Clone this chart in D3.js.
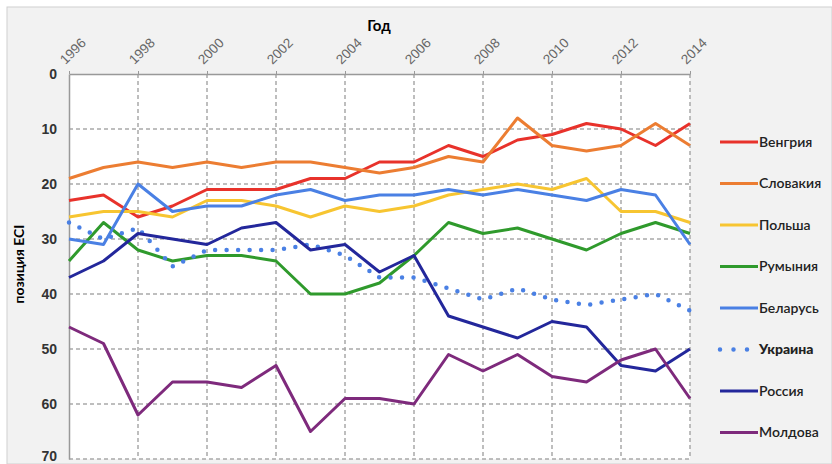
<!DOCTYPE html>
<html>
<head>
<meta charset="utf-8">
<script src="https://cdn.jsdelivr.net/npm/d3@7"></script>
<style>
  body { margin: 0; background: #fff; }
  svg { display: block; font-family: Lato, "Open Sans", sans-serif; }
</style>
</head>
<body>
<script>
var width = 832,
	height = 464;

// data (ECI rank, lower = better)
var years = d3.range(1996, 2015);
var countries = ["Венгрия", "Словакия", "Польша", "Румыния", "Беларусь", "Украина", "Россия", "Молдова"];
var colors = ["#e8322b", "#ec7d32", "#f7c531", "#2f9a2c", "#4a80e4", "#4a80e4", "#23279b", "#7e2a7c"];
var hungary  = [23, 22, 26, 24, 21, 21, 21, 19, 19, 16, 16, 13, 15, 12, 11, 9, 10, 13, 9];
var slovakia = [19, 17, 16, 17, 16, 17, 16, 16, 17, 18, 17, 15, 16, 8, 13, 14, 13, 9, 13];
var poland   = [26, 25, 25, 26, 23, 23, 24, 26, 24, 25, 24, 22, 21, 20, 21, 19, 25, 25, 27];
var romania  = [34, 27, 32, 34, 33, 33, 34, 40, 40, 38, 33, 27, 29, 28, 30, 32, 29, 27, 29];
var belarus  = [30, 31, 20, 25, 24, 24, 22, 21, 23, 22, 22, 21, 22, 21, 22, 23, 21, 22, 31];
var ukraine  = [27, 30, 28, 35, 32, 32, 32, 31, 33, 37, 37, 39, 41, 39, 41, 42, 41, 40, 43];
var russia   = [37, 34, 29, 30, 31, 28, 27, 32, 31, 36, 33, 44, 46, 48, 45, 46, 53, 54, 50];
var moldova  = [46, 49, 62, 56, 56, 57, 53, 65, 59, 59, 60, 51, 54, 51, 55, 56, 52, 50, 59];
var series = [hungary, slovakia, poland, romania, belarus, ukraine, russia, moldova];
var yearTicks = [1996, 1998, 2000, 2002, 2004, 2006, 2008, 2010, 2012, 2014];
var rankTicks = [0, 10, 20, 30, 40, 50, 60, 70];

var svg = d3.select("body").append("svg")
	.attr("width", width)
	.attr("height", height);

// grey frame behind the chart
svg.append("rect")
	.attr("x", 7).attr("y", 7)
	.attr("width", width - 7).attr("height", height - 7)
	.attr("fill", "#f2f2f2")
	.attr("stroke", "#d0d0d0");

var x = d3.scaleLinear().domain([1996, 2014]).range([69, 690]),
	y = d3.scaleLinear().domain([0, 70]).range([74, 459]);

svg.append("rect")
	.attr("x", x(1996)).attr("y", y(0))
	.attr("width", x(2014) - x(1996)).attr("height", y(70) - y(0))
	.attr("fill", "#fff");

// dashed grid
svg.append("g").selectAll("line")
	.data(rankTicks.slice(1))
	.join("line")
	.attr("x1", x(1996)).attr("x2", x(2014))
	.attr("y1", d => y(d)).attr("y2", d => y(d))
	.attr("stroke", "#a9a9a9").attr("stroke-width", 1.5)
	.attr("stroke-dasharray", "4,3");
svg.append("g").selectAll("line")
	.data(yearTicks.slice(1))
	.join("line")
	.attr("x1", d => x(d)).attr("x2", d => x(d))
	.attr("y1", y(0)).attr("y2", y(70))
	.attr("stroke", "#a9a9a9").attr("stroke-width", 1.5)
	.attr("stroke-dasharray", "4,3");

// axes
var xAxis = svg.append("g")
	.attr("transform", "translate(0," + y(0) + ")")
	.call(d3.axisTop(x).tickValues(yearTicks).tickFormat(d3.format("d")).tickSizeInner(3).tickSizeOuter(0));
xAxis.select(".domain").attr("stroke", "#999").attr("stroke-width", 1.5);
xAxis.selectAll(".tick line").attr("stroke", "#999");
xAxis.selectAll(".tick text")
	.attr("text-anchor", "start")
	.attr("transform", "translate(-4,-9) rotate(-45)")
	.attr("x", 0).attr("y", 0).attr("dy", 0)
	.attr("fill", "#666")
	.style("font-size", "13.5px");

var yAxis = svg.append("g")
	.attr("transform", "translate(" + x(1996) + ",0)")
	.call(d3.axisLeft(y).tickValues(rankTicks).tickSizeInner(0).tickSizeOuter(0).tickPadding(12));
yAxis.select(".domain").attr("stroke", "#999").attr("stroke-width", 1.5);
yAxis.selectAll(".tick text")
	.attr("fill", "#333")
	.style("font-size", "14px")
	.style("font-weight", "bold");
// the last label sits on the picture's bottom edge, lift it a bit
yAxis.selectAll(".tick text").filter(d => d == 70).attr("dy", "0.1em");

svg.append("text")
	.attr("x", 379).attr("y", 31)
	.attr("text-anchor", "middle")
	.style("font-size", "15px").style("font-weight", "bold")
	.text("Год");

svg.append("text")
	.attr("transform", "translate(24,264) rotate(-90)")
	.attr("text-anchor", "middle")
	.style("font-size", "14px").style("font-weight", "bold")
	.text("позиция ECI");

// lines
var line = d3.line()
	.x((d, i) => x(years[i]))
	.y(d => y(d));

series.forEach(function(s, k) {
	var p = svg.append("path")
		.datum(s)
		.attr("d", line)
		.attr("fill", "none")
		.attr("stroke", colors[k])
		.attr("stroke-linejoin", "round");
	if (countries[k] == "Украина") {
		p.attr("stroke-width", 4.5).attr("stroke-linecap", "round").attr("stroke-dasharray", "0,11.5");
	} else {
		p.attr("stroke-width", 3);
	}
});

// legend
var legend = svg.append("g").selectAll("g")
	.data(countries)
	.join("g")
	.attr("transform", (d, i) => "translate(720," + (142 + i * 41.5) + ")");
legend.append("line")
	.attr("x1", 0).attr("x2", d => d == "Украина" ? 28 : 38)
	.attr("stroke", (d, i) => colors[i])
	.attr("stroke-width", d => d == "Украина" ? 4.5 : 3)
	.attr("stroke-linecap", d => d == "Украина" ? "round" : "butt")
	.attr("stroke-dasharray", d => d == "Украина" ? "0,13.5" : null);
legend.append("text")
	.attr("x", 39).attr("dy", "0.35em")
	.attr("fill", "#222")
	.style("font-size", "14px")
	.style("font-weight", d => d == "Украина" ? "900" : "600")
	.text(d => d);
</script>
</body>
</html>
